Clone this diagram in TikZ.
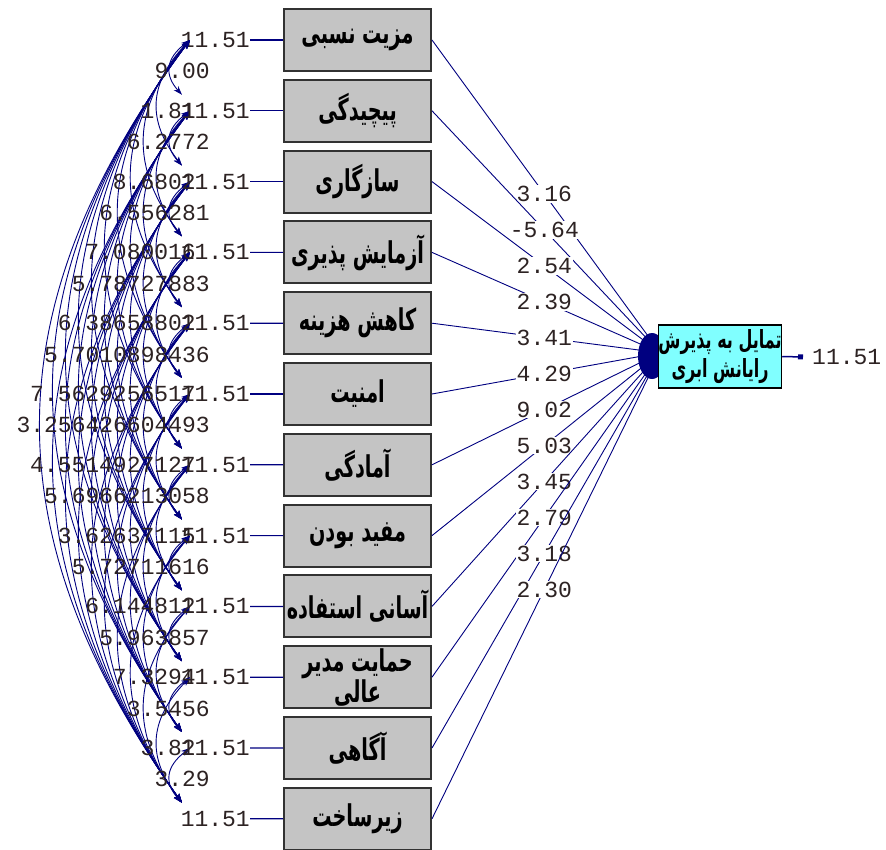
\documentclass[tikz,border=0pt]{standalone}
\usepackage{fontspec}
\usetikzlibrary{arrows.meta,shapes.geometric}
\TeXXeTstate=1
\newfontfamily\arabicfont[Script=Arabic,FakeStretch=0.64]{DejaVu Sans}
\newfontfamily\numfont{Liberation Mono}
\definecolor{lnavy}{RGB}{0,0,128}
\definecolor{boxgray}{RGB}{196,196,196}
\definecolor{boxline}{RGB}{50,50,50}
\definecolor{boxcyan}{RGB}{128,255,255}
\definecolor{numcol}{RGB}{45,35,35}
\begin{document}
\begin{tikzpicture}[x=1pt,y=-1pt,
  varbox/.style={draw=boxline, line width=2pt, fill=boxgray, minimum width=147pt,
    minimum height=62pt, inner sep=0pt, align=center,
    font=\arabicfont\bfseries\fontsize{30}{30}\selectfont},
  latbox/.style={draw=black, line width=1.3pt, fill=boxcyan, minimum width=122pt,
    minimum height=63pt, inner sep=0pt, align=center,
    font=\arabicfont\bfseries\fontsize{25}{29}\selectfont},
  num/.style={font=\numfont\fontsize{23}{23}\selectfont, text=numcol, inner sep=0pt},
  plab/.style={num, fill=white, inner sep=1pt},
  errln/.style={lnavy, line width=1.2pt},
  pathln/.style={lnavy, line width=0.9pt},
  cov/.style={lnavy, line width=0.9pt, {Stealth[length=9pt,width=6pt]}-{Stealth[length=9pt,width=6pt]}}
]
\useasboundingbox (0,0) rectangle (886,850);
\fill[white] (0,0) rectangle (886,850);

% observed variables
\node[varbox] (v1)  at (357.5, 40.0) {\beginR مزیت نسبی\endR};
\node[varbox] (v2)  at (357.5,110.8) {\beginR پیچیدگی\endR};
\node[varbox] (v3)  at (357.5,181.6) {\beginR سازگاری\endR};
\node[varbox] (v4)  at (357.5,252.4) {\beginR آزمایش پذیری\endR};
\node[varbox] (v5)  at (357.5,323.2) {\beginR کاهش هزینه\endR};
\node[varbox] (v6)  at (357.5,394.0) {\beginR امنیت\endR};
\node[varbox] (v7)  at (357.5,464.8) {\beginR آمادگی\endR};
\node[varbox] (v8)  at (357.5,535.6) {\beginR مفید بودن\endR};
\node[varbox] (v9)  at (357.5,606.4) {\beginR آسانی استفاده\endR};
\node[varbox] (v10) at (357.5,677.2) {\beginR حمایت مدیر\endR\\\beginR عالی\endR};
\node[varbox] (v11) at (357.5,748.0) {\beginR آگاهی\endR};
\node[varbox] (v12) at (357.5,818.8) {\beginR زیرساخت\endR};

% error variances and arc end points
\foreach \k in {1,...,12}{
  \pgfmathsetmacro\yk{40+70.8*(\k-1)}
  \node[num, anchor=east] (e\k) at (250,\yk) {11.51};
  \draw[errln] (e\k.east) -- (v\k.west);
  \coordinate (ct\k) at (190,\yk);
  \coordinate (cb\k) at (182,{\yk-16});
}

% covariance arcs
\foreach \i in {1,...,11}{
  \pgfmathtruncatemacro\ii{\i+1}
  \foreach \j in {\ii,...,12}{
    \pgfmathsetmacro\ya{40+70.8*(\i-1)}
    \pgfmathsetmacro\yb{40+70.8*(\j-1)-16}
    \pgfmathsetmacro\X{182-17.3*(\j-\i)}
    \pgfmathsetmacro\spn{(\yb-\ya)*0.35}
    \pgfmathsetmacro\pa{\ya+\spn}
    \pgfmathsetmacro\pb{\yb-\spn}
    \draw[cov] (ct\i) .. controls (\X,\pa) and (\X,\pb) .. (cb\j);
  }
}

% covariance labels (overlapping, as printed)
\foreach \s [count=\k] in {9.00,6.2772,6.556281,5.78727883,5.7010898436,3.256426604493,5.6966213058,5.72711616,5.963857,3.5456,3.29}{
  \pgfmathsetmacro\yh{40+70.8*(\k-0.5)-4}
  \node[num, anchor=east] (h\k) at (210,\yh) {\s};
}
\foreach \s [count=\c] in {1.81,8.6802,7.080016,6.38658802,7.5629256517,4.5514927127,3.62637115,6.144812,7.3294,3.82}{
  \pgfmathtruncatemacro\k{\c+1}
  \pgfmathsetmacro\yk{40+70.8*(\k-1)}
  \node[num, anchor=east] (r\k) at (196,\yk) {\s};
}

% path lines to latent variable
\foreach \k in {1,...,12}{
  \coordinate (p\k) at (648,{336+3.8*(\k-1)});
}
\foreach \k/\v in {1/3.16,2/-5.64,3/2.54,4/2.39,5/3.41,6/4.29,7/9.02,8/5.03,9/3.45,10/2.79,11/3.18,12/2.30}{
  \draw[pathln] (v\k.east) -- node[plab, pos=0.52] {\v} (p\k);
}
\node[ellipse, fill=lnavy, minimum width=28pt, minimum height=46pt, inner sep=0pt] (blob) at (652,356) {};

% latent variable
\node[latbox] (y) at (720,356.5) {\beginR تمایل به پذیرش\endR\\\beginR رایانش ابری\endR};
\node[num, anchor=west] (ey) at (812,357) {11.51};
\coordinate (eyt) at (803,357);
\draw[lnavy, line width=1.5pt, {Square[length=5pt,width=5pt]}-] (eyt) -- (y.east);
\end{tikzpicture}
\end{document}
